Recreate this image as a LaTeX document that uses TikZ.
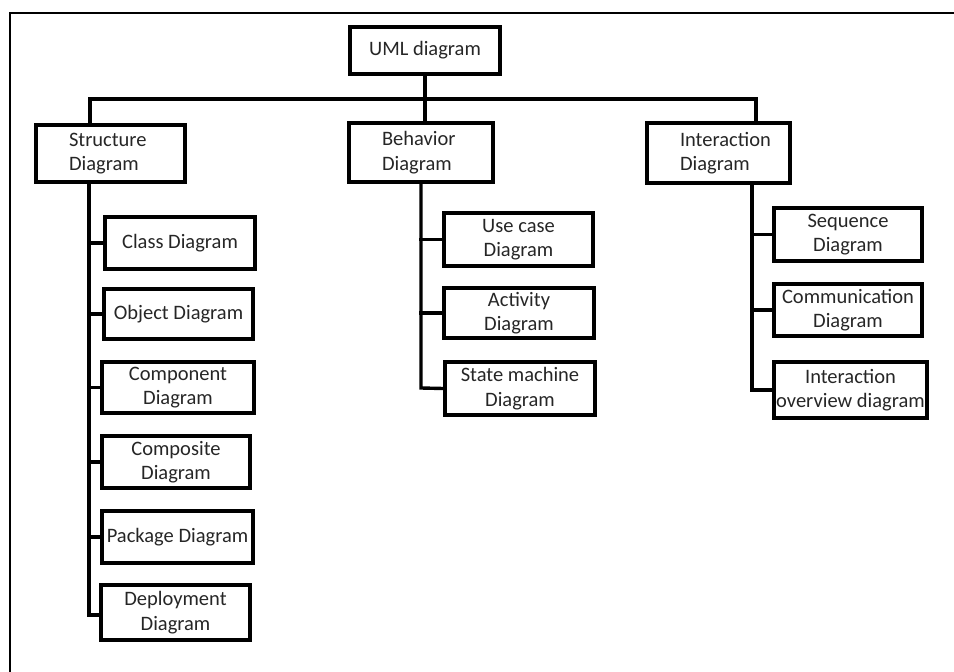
\documentclass[tikz,border=0pt]{standalone}
\usepackage{fontspec}
\setmainfont{Carlito}
\begin{document}
\begin{tikzpicture}[x=1pt,y=-1pt,
  box/.style={draw=black, line width=3.4pt, inner sep=0pt, align=center,
    font=\fontsize{20.5}{24.5}\selectfont, text=black!85},
  lbox/.style={box, align=left, inner xsep=33pt, text width=#1},
  conn/.style={draw=black, line width=3.4pt, line cap=rect},
  frame/.style={draw=black, line width=2.4pt}]
\useasboundingbox (0,0) rectangle (954,672);
\draw[frame] (10,672) -- (10,13) -- (956,13);
% top level
\node[box, minimum width=150pt, minimum height=47pt] (u) at (425,50.5) {UML diagram};
\node[lbox=83pt, minimum height=57pt] (s) at (110.5,153.5) {Structure\\Diagram};
\node[lbox=78pt, minimum height=59pt] (b) at (421,152.5) {Behavior\\Diagram};
\node[lbox=77pt, minimum height=60pt] (i) at (718.5,153) {Interaction\\Diagram};
% structure children
\node[box, minimum width=150pt, minimum height=52pt] (cls) at (180,243) {Class Diagram};
\node[box, minimum width=149pt, minimum height=50pt] (obj) at (178.5,314) {Object Diagram};
\node[box, minimum width=152pt, minimum height=51pt] (comp) at (178,387.5) {Component\\Diagram};
\node[box, minimum width=148pt, minimum height=52pt] (compo) at (176,462) {Composite\\Diagram};
\node[box, minimum width=151pt, minimum height=52pt] (pkg) at (177.5,537) {Package Diagram};
\node[box, minimum width=149pt, minimum height=55pt] (dep) at (175.5,612.5) {Deployment\\Diagram};
% behavior children
\node[box, minimum width=149pt, minimum height=53pt] (uc) at (518.5,239.5) {Use case\\Diagram};
\node[box, minimum width=150pt, minimum height=50pt] (act) at (519,313) {Activity\\Diagram};
\node[box, minimum width=150pt, minimum height=53pt] (sm) at (520,388.5) {State machine\\Diagram};
% interaction children
\node[box, minimum width=148pt, minimum height=53pt] (seq) at (848,234.5) {Sequence\\Diagram};
\node[box, minimum width=148pt, minimum height=52pt] (comm) at (848,310) {Communication\\Diagram};
\node[box, minimum width=153pt, minimum height=56pt] (io) at (850.5,390) {Interaction\\overview diagram};
% bus
\coordinate (busL) at (90,99);
\coordinate (busR) at (756,99);
\draw[conn] (u.south) -- (u.south |- b.north);
\draw[conn] (busL |- s.north) -- (busL) -- (busR) -- (busR |- i.north);
% trunks
\coordinate (sT) at (89,615);
\coordinate (bT) at (421,388);
\coordinate (iT) at (752,390);
\draw[conn] (sT |- s.south) -- (sT) -- (dep.west |- sT);
\foreach \n in {cls,obj,comp,compo,pkg} \draw[conn] (sT |- \n.west) -- (\n.west);
\draw[conn] (bT |- b.south) -- (bT) -- (sm.west);
\foreach \n in {uc,act} \draw[conn] (bT |- \n.west) -- (\n.west);
\draw[conn] (iT |- i.south) -- (iT) -- (io.west);
\foreach \n in {seq,comm} \draw[conn] (iT |- \n.west) -- (\n.west);
\end{tikzpicture}
\end{document}
